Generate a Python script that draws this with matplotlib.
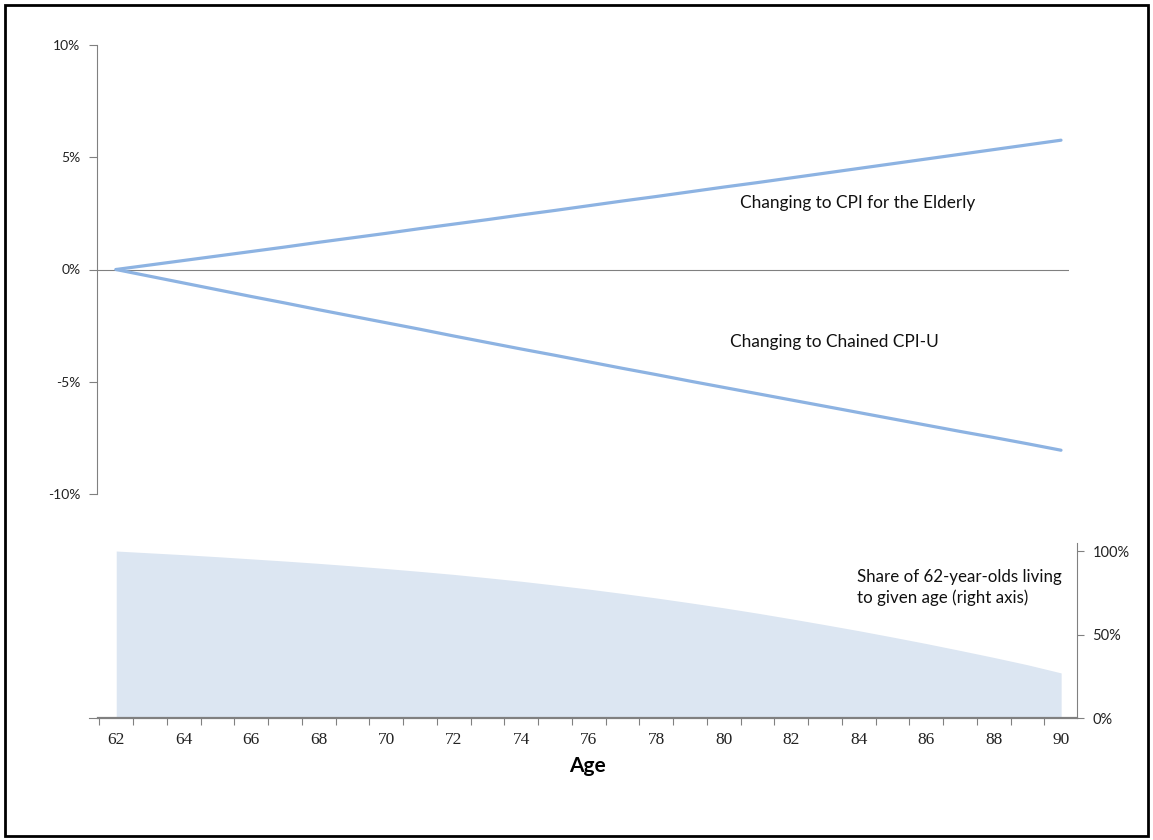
import matplotlib
matplotlib.use("Agg")
import matplotlib.pyplot as plt
from matplotlib.patches import Rectangle
from matplotlib.ticker import FixedLocator, NullFormatter, FixedFormatter

ages = list(range(62, 91))
cpi_elderly = [0.00, 0.20, 0.40, 0.60, 0.80, 1.00, 1.21, 1.41, 1.61, 1.82,
               2.02, 2.22, 2.43, 2.63, 2.84, 3.05, 3.25, 3.46, 3.67, 3.87,
               4.08, 4.29, 4.50, 4.71, 4.92, 5.13, 5.34, 5.55, 5.76]
chained_cpi = [0.00, -0.30, -0.60, -0.90, -1.20, -1.49, -1.79, -2.08, -2.37, -2.66,
               -2.96, -3.25, -3.54, -3.82, -4.11, -4.40, -4.68, -4.97, -5.25, -5.53,
               -5.81, -6.09, -6.37, -6.65, -6.93, -7.21, -7.48, -7.76, -8.05]
survival = [100.0, 98.9, 97.8, 96.6, 95.3, 94.0, 92.6, 91.1, 89.5, 87.8,
            86.0, 84.0, 81.9, 79.6, 77.2, 74.6, 71.9, 69.0, 66.0, 62.8,
            59.4, 55.9, 52.3, 48.5, 44.6, 40.5, 36.3, 31.9, 27.0]
top_ticks = [-10, -5, 0, 5, 10]
top_tick_labels = ["-10%", "-5%", "0%", "5%", "10%"]
right_ticks = [0, 50, 100]
right_tick_labels = ["0%", "50%", "100%"]
x_label_ages = list(range(62, 91, 2))

W, H = 1153, 840
fig = plt.figure(figsize=(W / 100, H / 100), dpi=100)
SANS = ["Lato", "DejaVu Sans"]
LINE_C = "#8DB3E2"
AREA_C = "#DCE6F2"
AX_C = "#808080"

def fx(px):
    return px / W

def fy(py):
    return 1 - py / H

# ---------- top axes ----------
ax1 = fig.add_axes([fx(97), fy(494), fx(1069) - fx(97), fy(45) - fy(494)])
ax1.set_xlim(61.437, 90.237)
ax1.set_ylim(-10, 10)
for s in ["top", "right", "bottom"]:
    ax1.spines[s].set_visible(False)
ax1.spines["left"].set_color(AX_C)
ax1.spines["left"].set_linewidth(0.8)
ax1.axhline(0, color=AX_C, lw=0.8, zorder=1)
ax1.plot(ages, cpi_elderly, color=LINE_C, lw=2.3, solid_capstyle="round", zorder=3)
ax1.plot(ages, chained_cpi, color=LINE_C, lw=2.3, solid_capstyle="round", zorder=3)
ax1.set_xticks([])
ax1.set_yticks(top_ticks)
ax1.set_yticklabels(top_tick_labels, fontfamily=SANS, fontsize=10, color="#222222")
ax1.tick_params(axis="y", direction="out", length=6, width=0.8, color=AX_C, pad=6)
ax1.text(80.5, 2.97, "Changing to CPI for the Elderly", fontfamily=SANS, fontsize=12.4,
         ha="left", va="center", color="#111111")
ax1.text(80.2, -3.22, "Changing to Chained CPI-U", fontfamily=SANS, fontsize=12.4,
         ha="left", va="center", color="#111111")

# ---------- bottom axes ----------
ax2 = fig.add_axes([fx(98), fy(718), fx(1077) - fx(98), fy(543) - fy(718)])
ax2.set_xlim(61.46, 90.47)
ax2.set_ylim(0, 104.8)
ax2.fill_between(ages, survival, 0, color=AREA_C, lw=0, zorder=1)
for s in ["top", "left"]:
    ax2.spines[s].set_visible(False)
ax2.spines["bottom"].set_color(AX_C)
ax2.spines["bottom"].set_linewidth(1.6)
ax2.spines["right"].set_color(AX_C)
ax2.spines["right"].set_linewidth(0.8)
ax2.xaxis.set_major_locator(FixedLocator([a + 0.5 for a in range(61, 91)]))
ax2.xaxis.set_major_formatter(NullFormatter())
ax2.tick_params(axis="x", which="major", direction="out", length=5, width=0.8, color=AX_C)
ax2.xaxis.set_minor_locator(FixedLocator(x_label_ages))
ax2.xaxis.set_minor_formatter(FixedFormatter([str(a) for a in x_label_ages]))
ax2.tick_params(axis="x", which="minor", length=0, pad=10, labelsize=12.5,
                labelcolor="#222222", labelfontfamily="Liberation Serif")
ax2.yaxis.tick_right()
ax2.set_yticks(right_ticks)
ax2.set_yticklabels(right_tick_labels, fontfamily=SANS, fontsize=10.5, color="#222222")
ax2.tick_params(axis="y", direction="out", length=5, width=0.8, color=AX_C, pad=6)
ax2.set_xlabel("Age", fontfamily=SANS, fontsize=15, fontweight="bold", labelpad=6)
ax2.text(83.95, 78.1, "Share of 62-year-olds living\nto given age (right axis)",
         fontfamily=SANS, fontsize=12.2, ha="left", va="center", linespacing=1.3,
         color="#111111")
# small left tick of the hidden primary axis
ax2.plot([61.2, 61.46], [0, 0], color=AX_C, lw=0.8, clip_on=False)

# figure border
fig.patches.append(Rectangle((fx(5), fy(836)), fx(1148) - fx(5), fy(5) - fy(836),
                             transform=fig.transFigure, fill=False,
                             edgecolor="black", linewidth=2))

fig.savefig("out.png", dpi=100)
